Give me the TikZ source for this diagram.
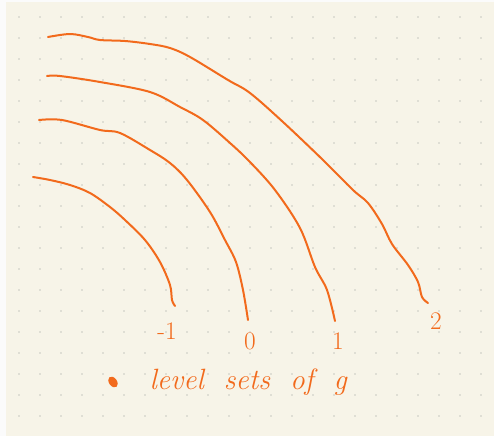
\documentclass[tikz,border=0pt]{standalone}
\usepackage{fontspec}
\usepackage{tikz}
\usetikzlibrary{positioning}

\definecolor{pen}{RGB}{242,106,28}
\definecolor{paper}{RGB}{247,244,232}
\definecolor{dotgray}{RGB}{200,200,192}
\newcommand\widewords{\spaceskip=15pt\relax}

\begin{document}
\begin{tikzpicture}[
  x=0.75pt, y=-0.75pt,
  level/.style={pen, line width=1.5pt, line cap=round, line join=round},
  val/.style={pen, font=\fontsize{19}{21}\selectfont, inner sep=1pt},
  legend/.style={pen, font=\itshape\fontsize{22}{24}\selectfont\widewords, inner sep=1pt}
]
% paper
\fill[white!97!gray] (0,0) rectangle (494,436);
\fill[paper] (6,2) rectangle (494,436);
\useasboundingbox (0,0) rectangle (494,436);
\foreach \i in {0,...,22}
  \foreach \j in {0,...,20}
    \fill[dotgray] (19+21*\i,17+21*\j) circle (0.9);

% level sets
\draw[level] plot[smooth, tension=0.55] coordinates {(48,37) (70,34) (88,37) (100,40) (125,41) (150,44) (170,48) (190,57) (228,80) (250,93) (283,122) (323,160) (353,190) (368,203) (382,224) (392,244) (408,265) (418,282) (422,297) (428,303)};
\draw[level] plot[smooth, tension=0.55] coordinates {(47,76) (60,76) (100,82) (150,92) (180,107) (203,120) (230,143) (250,162) (275,190) (300,228) (315,267) (327,290) (335,321)};
\draw[level] plot[smooth, tension=0.55] coordinates {(39,120) (62,120) (100,130) (120,133) (150,150) (170,163) (187,180) (210,212) (225,240) (236,262) (243,290) (248,320)};
\draw[level] plot[smooth, tension=0.55] coordinates {(33,177) (50,180) (70,185) (90,193) (110,207) (125,220) (145,240) (160,262) (170,285) (172,300) (175,306)};

% values
\node[val] (m1) at (167,331) {-1};
\node[val] (z) at (250,341) {0};
\node[val] (o) at (338,341) {1};
\node[val] (t) at (436,321) {2};

% legend
\fill[pen, rotate around={35:(113,382)}] (113,382) ellipse (4 and 6);
\node[legend, anchor=west] (lg) at (148,382) {level sets of g};
\end{tikzpicture}
\end{document}
